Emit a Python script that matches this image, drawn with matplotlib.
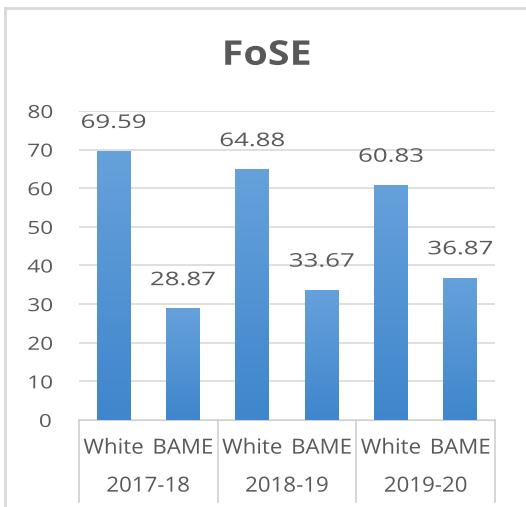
import matplotlib.pyplot as plt
from matplotlib.lines import Line2D
from matplotlib import patheffects
from matplotlib.transforms import Affine2D
from matplotlib.colors import LinearSegmentedColormap
import numpy as np

# chart data
years = ['2017-18', '2018-19', '2019-20']
groups = ['White', 'BAME']
white_vals = [69.59, 64.88, 60.83]
bame_vals = [28.87, 33.67, 36.87]

plt.rcParams['font.family'] = ['Open Sans', 'DejaVu Sans']
text_col = '#595959'


class Stretch(patheffects.AbstractPathEffect):
    """widen glyphs horizontally about the text centre (Excel-like wide text)"""
    def __init__(self, sx):
        super().__init__()
        self.sx = sx

    def draw_path(self, renderer, gc, tpath, affine, rgbFace=None):
        ext = tpath.get_extents()
        cx = (ext.x0 + ext.x1) / 2
        t = Affine2D().translate(-cx, 0).scale(self.sx, 1).translate(cx, 0) + affine
        renderer.draw_path(gc, tpath, t, rgbFace)


fig = plt.figure(figsize=(5.26, 5.07), dpi=100)
ax = fig.add_axes([0.150, 0.1716, 0.791, 0.6095])

vals = []
labels = []
for w, b in zip(white_vals, bame_vals):
    vals += [w, b]
    labels += groups
x = np.arange(len(vals))

# bars with a soft vertical gradient
grad = np.linspace(1, 0, 256).reshape(-1, 1)
cmap = LinearSegmentedColormap.from_list('bar', ['#3F86CC', '#66A1DB'])
bars = ax.bar(x, vals, width=0.49, color='#4A8FD3', zorder=3)
for bar in bars:
    x0, w, h = bar.get_x(), bar.get_width(), bar.get_height()
    im = ax.imshow(grad, extent=[x0, x0 + w, 0, h], aspect='auto', cmap=cmap,
                   origin='upper', zorder=3.5)
    im.set_clip_path(bar)
ax.set_xlim(-0.5, len(vals) - 0.5)
ax.set_ylim(0, 80)

for xi, v in zip(x, vals):
    ax.text(xi, v + 5.0, f'{v:.2f}', ha='center', va='bottom',
            fontsize=13.5, color=text_col, path_effects=[Stretch(1.38)])

ax.set_yticks(range(0, 81, 10))
ax.tick_params(axis='y', length=0, pad=20.5, labelsize=13, labelcolor=text_col)
for t in ax.get_yticklabels():
    t.set_path_effects([Stretch(1.25)])
ax.set_xticks([])
ax.grid(axis='y', color='#D9D9D9', linewidth=1.2, zorder=0)
for s in ['top', 'right', 'left']:
    ax.spines[s].set_visible(False)
ax.spines['bottom'].set_color('#D0D0D0')

# multi-level category axis
trans = ax.get_xaxis_transform()
for xi, lab in zip(x, labels):
    ax.text(xi, -0.091, lab, transform=trans, ha='center', va='center',
            fontsize=15, color=text_col, path_effects=[Stretch(1.07)])
for i, yr in enumerate(years):
    ax.text(2 * i + 0.5, -0.214, yr, transform=trans, ha='center', va='center',
            fontsize=15, color=text_col, path_effects=[Stretch(1.07)])
for b in np.arange(-0.5, len(vals), 2):
    ax.add_line(Line2D([b, b], [0, -0.265], transform=trans, color='#D0D0D0',
                       linewidth=1.2, clip_on=False))

fig.text(0.507, 0.89, 'FoSE', ha='center', va='center', fontsize=24.5,
         fontweight='bold', color=text_col, path_effects=[Stretch(1.16)])

# chart frame
fig.add_artist(Line2D([0.0095, 1.0], [0.984, 0.984], color='#D9D9D9', linewidth=2))
fig.add_artist(Line2D([0.0095, 0.0095], [0.0, 0.984], color='#D9D9D9', linewidth=2))

fig.savefig('out.png', dpi=100, facecolor='white')
